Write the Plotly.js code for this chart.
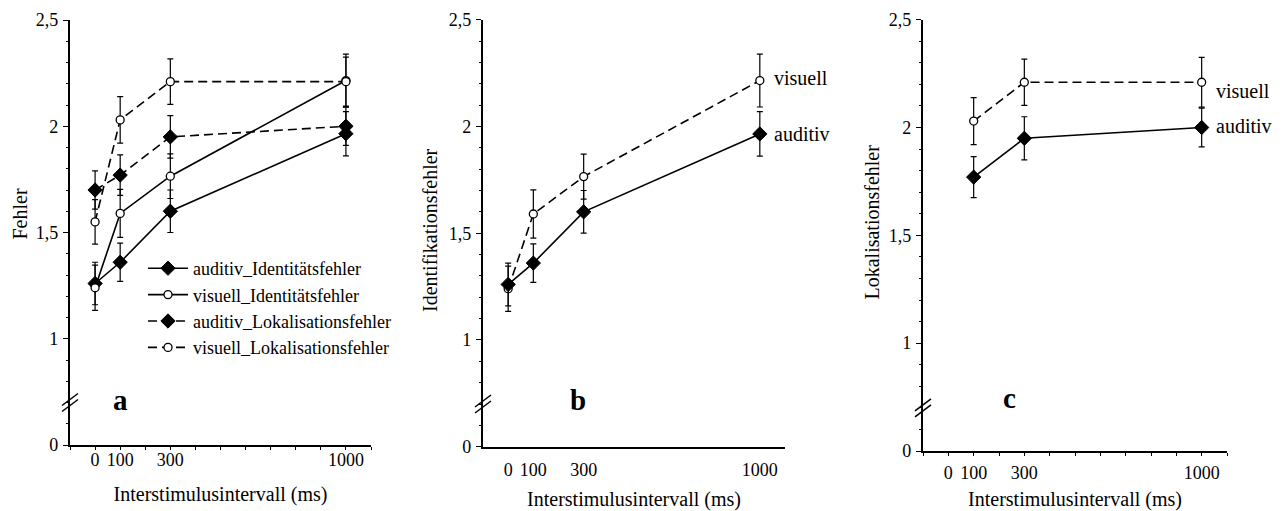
<!DOCTYPE html>
<html>
<head>
<meta charset="utf-8">
<script src="https://cdn.plot.ly/plotly-3.0.1.min.js"></script>
<style>html,body{margin:0;padding:0;background:#fff;}#chart{width:1285px;height:511px;}</style>
</head>
<body>
<div id="chart"></div>
<script>
// ---- data ----
const isi = [0, 100, 300, 1000];                 // Interstimulusintervall (ms)
const isiTickVals = [0, 100, 300, 1000];
const isiTickText = ['0', '100', '300', '1000'];
const yTickVals = [0.5, 1, 1.5, 2, 2.5];         // 0.5 is drawn as "0" (broken axis)
const yTickText = ['0', '1', '1,5', '2', '2,5'];

const audIdent    = [1.26, 1.36, 1.60, 1.965];
const audIdentErr = [0.10, 0.09, 0.10, 0.104];
const visIdent    = [1.24, 1.59, 1.765, 2.215];
const visIdentErr = [0.106, 0.113, 0.105, 0.124];
const audLok      = [1.70, 1.77, 1.95, 2.00];
const audLokErr   = [0.09, 0.095, 0.10, 0.09];
const visLok      = [1.55, 2.03, 2.21, 2.21];
const visLokErr   = [0.105, 0.109, 0.107, 0.115];

const seriesNames = ['auditiv_Identitätsfehler', 'visuell_Identitätsfehler',
                     'auditiv_Lokalisationsfehler', 'visuell_Lokalisationsfehler'];
const panelLetters = ['a', 'b', 'c'];
const yTitles = ['Fehler', 'Identifikationsfehler', 'Lokalisationsfehler'];
const xTitle = 'Interstimulusintervall (ms)';

// ---- styling helpers ----
const FONT = '"Liberation Serif", "Times New Roman", Times, serif';
const W = 1285, H = 511;
const px = v => v / W;
const py = v => 1 - v / H;

const diamond = {symbol: 'diamond', size: 11, color: 'black', line: {color: 'black', width: 1}};
const circle  = {symbol: 'circle', size: 8, color: 'white', line: {color: 'black', width: 1.3}};
const solid = {color: 'black', width: 1.6};
const dashed = {color: 'black', width: 1.6, dash: '9px,5px'};
function err(a) { return {type: 'data', array: a, visible: true, color: 'black', thickness: 1.2, width: 3}; }

function tr(x, y, e, name, marker, line, xa, ya, showlegend) {
  return {x: x, y: y, name: name, type: 'scatter', mode: 'lines+markers',
          marker: marker, line: line, error_y: err(e), xaxis: xa, yaxis: ya,
          showlegend: showlegend, hoverinfo: 'x+y+name'};
}

const traces = [
  // panel a
  tr(isi, audIdent, audIdentErr, seriesNames[0], diamond, solid, 'x', 'y', true),
  tr(isi, visIdent, visIdentErr, seriesNames[1], circle, solid, 'x', 'y', true),
  tr(isi, audLok, audLokErr, seriesNames[2], diamond, dashed, 'x', 'y', true),
  tr(isi, visLok, visLokErr, seriesNames[3], circle, dashed, 'x', 'y', true),
  // panel b (Identifikation)
  tr(isi, visIdent, visIdentErr, 'visuell', circle, dashed, 'x2', 'y2', false),
  tr(isi, audIdent, audIdentErr, 'auditiv', diamond, solid, 'x2', 'y2', false),
  // panel c (Lokalisation, ISI >= 100)
  tr(isi.slice(1), visLok.slice(1), visLokErr.slice(1), 'visuell', circle, dashed, 'x3', 'y3', false),
  tr(isi.slice(1), audLok.slice(1), audLokErr.slice(1), 'auditiv', diamond, solid, 'x3', 'y3', false)
];

function xAxis(domain, anchor, minorTicks, standoffLbl, titleStandoff) {
  const ax = {
    domain: domain, anchor: anchor, range: [-100, 1100], showgrid: false, zeroline: false,
    showline: true, linecolor: 'black', linewidth: 2.2, mirror: false,
    tickmode: 'array', tickvals: isiTickVals, ticktext: isiTickText, ticks: '',
    tickfont: {family: FONT, size: 18, color: 'black'}, ticklabelstandoff: standoffLbl,
    automargin: false, fixedrange: true,
    title: {text: xTitle, font: {family: FONT, size: 20, color: 'black'}, standoff: titleStandoff}
  };
  if (minorTicks) ax.minor = {tickmode: 'linear', tick0: -100, dtick: 100, ticks: 'outside', ticklen: 3, tickcolor: 'black', tickwidth: 1, showgrid: false};
  return ax;
}
function yAxis(domain, anchor) {
  return {
    domain: domain, anchor: anchor, range: [0.5, 2.5], showgrid: false, zeroline: false,
    showline: true, linecolor: 'black', linewidth: 2.2,
    tickmode: 'array', tickvals: yTickVals, ticktext: yTickText,
    ticks: 'outside', ticklen: 5, tickwidth: 1, tickcolor: 'black',
    minor: {tickmode: 'linear', tick0: 0.5, dtick: 0.1, ticks: 'outside', ticklen: 2, tickcolor: 'black', tickwidth: 1, showgrid: false},
    tickfont: {family: FONT, size: 18, color: 'black'}, ticklabelstandoff: 1,
    automargin: false, fixedrange: true
  };
}

const layout = {
  width: W, height: H,
  margin: {l: 0, r: 0, t: 0, b: 0, pad: 0},
  paper_bgcolor: 'white', plot_bgcolor: 'white',
  font: {family: FONT, color: 'black', size: 18},
  xaxis:  xAxis([px(70), px(371)], 'y', true, -3, 18),
  yaxis:  yAxis([py(445), py(20)], 'x'),
  xaxis2: xAxis([px(483), px(785)], 'y2', false, 5, 14),
  yaxis2: yAxis([py(446.7), py(19.7)], 'x2'),
  xaxis3: xAxis([px(923), px(1227)], 'y3', true, 4, 14),
  yaxis3: yAxis([py(451), py(19.7)], 'x3'),
  showlegend: true,
  legend: {x: px(143), y: py(250), xanchor: 'left', yanchor: 'top', bgcolor: 'rgba(0,0,0,0)',
           font: {family: FONT, size: 18, color: 'black'}, itemwidth: 40,
           traceorder: 'normal', tracegroupgap: 0},
  annotations: [],
  shapes: []
};

// y-axis titles
const yTitlePos = [[19.5, 214], [430, 230], [871, 222.5]];
yTitles.forEach((t, i) => layout.annotations.push({
  text: t, xref: 'paper', yref: 'paper', x: px(yTitlePos[i][0]), y: py(yTitlePos[i][1]),
  xanchor: 'center', yanchor: 'middle', textangle: -90, showarrow: false,
  font: {family: FONT, size: 20, color: 'black'}
}));
// panel letters
const letterPos = [[120, 400], [578, 400], [1009, 398]];
panelLetters.forEach((t, i) => layout.annotations.push({
  text: '<b>' + t + '</b>', xref: 'paper', yref: 'paper', x: px(letterPos[i][0]), y: py(letterPos[i][1]),
  xanchor: 'center', yanchor: 'middle', showarrow: false,
  font: {family: FONT, size: 29, color: 'black'}
}));
// series labels in b and c (anchored to the last data point)
function lab(text, xa, ya, x, y, yshift) {
  layout.annotations.push({text: text, xref: xa, yref: ya, x: x, y: y, xanchor: 'left', yanchor: 'middle',
    xshift: 12, yshift: yshift, showarrow: false, font: {family: FONT, size: 20, color: 'black'}});
}
lab('visuell', 'x2', 'y2', isi[3], visIdent[3], 3);
lab('auditiv', 'x2', 'y2', isi[3], audIdent[3], 0);
lab('visuell', 'x3', 'y3', isi[3], visLok[3], -9);
lab('auditiv', 'x3', 'y3', isi[3], audLok[3], 2);

// axis-break marks on each y axis
[['x', 'y'], ['x2', 'y2'], ['x3', 'y3']].forEach(([xa, ya]) => {
  [-3, 3].forEach(off => layout.shapes.push({
    type: 'line', xref: xa + ' domain', yref: ya, xsizemode: 'pixel', ysizemode: 'pixel',
    xanchor: 0, yanchor: 0.7, x0: -8, x1: 8, y0: -6 + off, y1: 6 + off,
    line: {color: 'black', width: 1.5}
  }));
});

Plotly.newPlot('chart', traces, layout, {staticPlot: true, displayModeBar: false});
</script>
</body>
</html>
